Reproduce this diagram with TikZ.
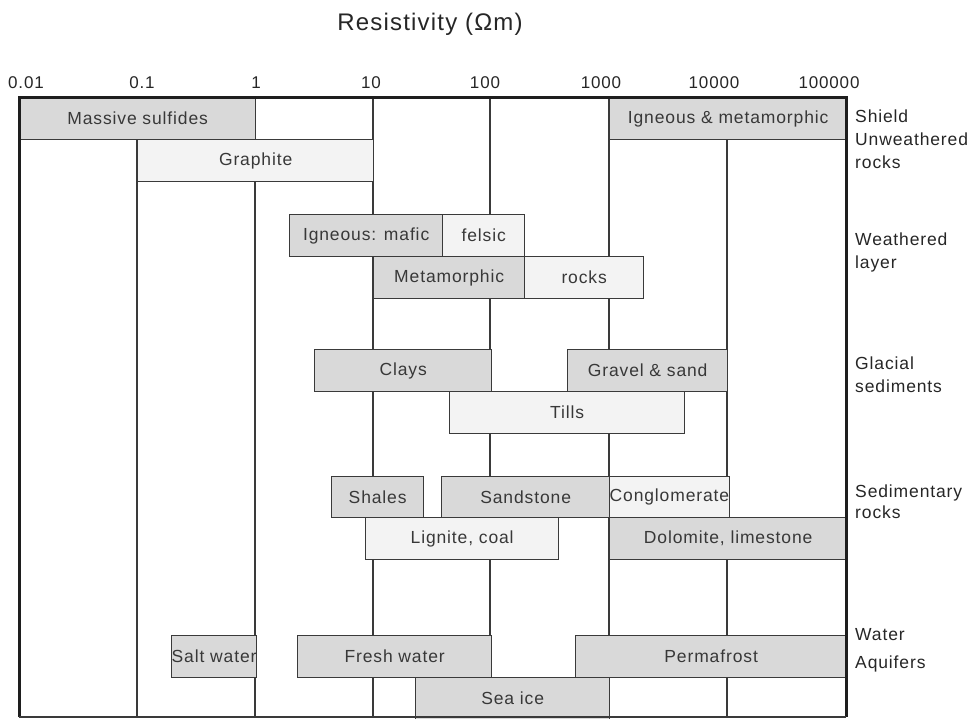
\documentclass[tikz,border=0pt]{standalone}
\usepackage{fontspec}
\setmainfont{Liberation Sans}
\newfontfamily\spacedfont[LetterSpace=5]{Liberation Sans}
\definecolor{dkfill}{HTML}{D9D9D9}
\definecolor{ltfill}{HTML}{F3F3F3}
\definecolor{linec}{HTML}{3A3A3A}
\definecolor{txtc}{HTML}{383838}
\definecolor{framec}{HTML}{1E1E1E}
\begin{document}
\begin{tikzpicture}[x=1pt,y=-1pt,
  rbox/.style={draw=linec, line width=1.3pt, inner sep=0pt, anchor=north west,
    text=txtc, font=\spacedfont\fontsize{17.5}{20}\selectfont},
  dk/.style={rbox, fill=dkfill},
  lt/.style={rbox, fill=ltfill},
  grid/.style={draw=linec, line width=1.3pt},
  frame/.style={draw=framec, line width=3pt},
  ticklab/.style={text=black!85, font=\spacedfont\fontsize{17}{20}\selectfont, inner sep=0pt},
  sidelab/.style={text=black!85, font=\spacedfont\fontsize{17.5}{23}\selectfont, anchor=west, align=left, inner sep=0pt}
]
\useasboundingbox (0,0) rectangle (971,718);
% title
\node[text=black!85, font=\spacedfont\fontsize{24}{27}\selectfont, inner sep=0pt] (title) at (430,24) {Resistivity (Ωm)};
% tick labels
\node[ticklab] (t1) at (26,83) {0.01};
\node[ticklab] (t2) at (142,83) {0.1};
\node[ticklab] (t3) at (256,83) {1};
\node[ticklab] (t4) at (371,83) {10};
\node[ticklab] (t5) at (485,83) {100};
\node[ticklab] (t6) at (601,83) {1000};
\node[ticklab] (t7) at (714,83) {10000};
\node[ticklab] (t8) at (829,83) {100000};
% grid lines
\foreach \gx in {137,255,373,490,609,727} {
  \draw[grid] (\gx,97) -- (\gx,717);
}
% boxes
\node[dk, minimum width=236pt, minimum height=42pt] (ms) at (19,97) {Massive sulfides};
\node[dk, minimum width=237pt, minimum height=42pt] (igm) at (609,97) {Igneous \& metamorphic};
\node[lt, minimum width=236pt, minimum height=42pt] (gr) at (137,139) {Graphite};
\node[dk, minimum width=153pt, minimum height=42pt] (maf) at (289,214) {Igneous: mafic};
\node[lt, minimum width=82pt, minimum height=42pt] (fel) at (442,214) {felsic};
\node[dk, minimum width=151pt, minimum height=42pt] (met) at (373,256) {Metamorphic};
\node[lt, minimum width=119pt, minimum height=42pt] (rk) at (524,256) {rocks};
\node[dk, minimum width=177pt, minimum height=42pt] (cl) at (314,349) {Clays};
\node[dk, minimum width=160pt, minimum height=42pt] (gs) at (567,349) {Gravel \& sand};
\node[lt, minimum width=235pt, minimum height=42pt] (ti) at (449,391) {Tills};
\node[dk, minimum width=92pt, minimum height=41pt] (sh) at (331,476) {Shales};
\node[dk, minimum width=168pt, minimum height=41pt] (ss) at (441,476) {Sandstone};
\node[lt, minimum width=119pt, minimum height=41pt] (cg) at (609,476) {Conglomerate};
\node[lt, minimum width=193pt, minimum height=42pt] (lc) at (365,517) {Lignite, coal};
\node[dk, minimum width=237pt, minimum height=42pt] (dl) at (609,517) {Dolomite, limestone};
\node[dk, minimum width=84pt, minimum height=42pt] (sw) at (171,635) {Salt water};
\node[dk, minimum width=194pt, minimum height=42pt] (fw) at (297,635) {Fresh water};
\node[dk, minimum width=271pt, minimum height=42pt] (pf) at (575,635) {Permafrost};
\node[dk, minimum width=194pt, minimum height=42pt] (si) at (415,677) {Sea ice};
% frame
\draw[frame] (19,717) -- (19,97) -- (846,97) -- (846,717);
\draw[grid] (19,717) -- (846,717);
% side labels
\node[sidelab] (shield) at (855,139) {Shield\\Unweathered\\rocks};
\node[sidelab] (weath) at (855,252) {Weathered\\layer};
\node[sidelab] (glac) at (855,375) {Glacial\\sediments};
\node[sidelab, font=\spacedfont\fontsize{17.5}{21}\selectfont] (sedi) at (855,502) {Sedimentary\\rocks};
\node[sidelab, font=\spacedfont\fontsize{17.5}{28}\selectfont] (water) at (855,650) {Water\\Aquifers};
\end{tikzpicture}
\end{document}
